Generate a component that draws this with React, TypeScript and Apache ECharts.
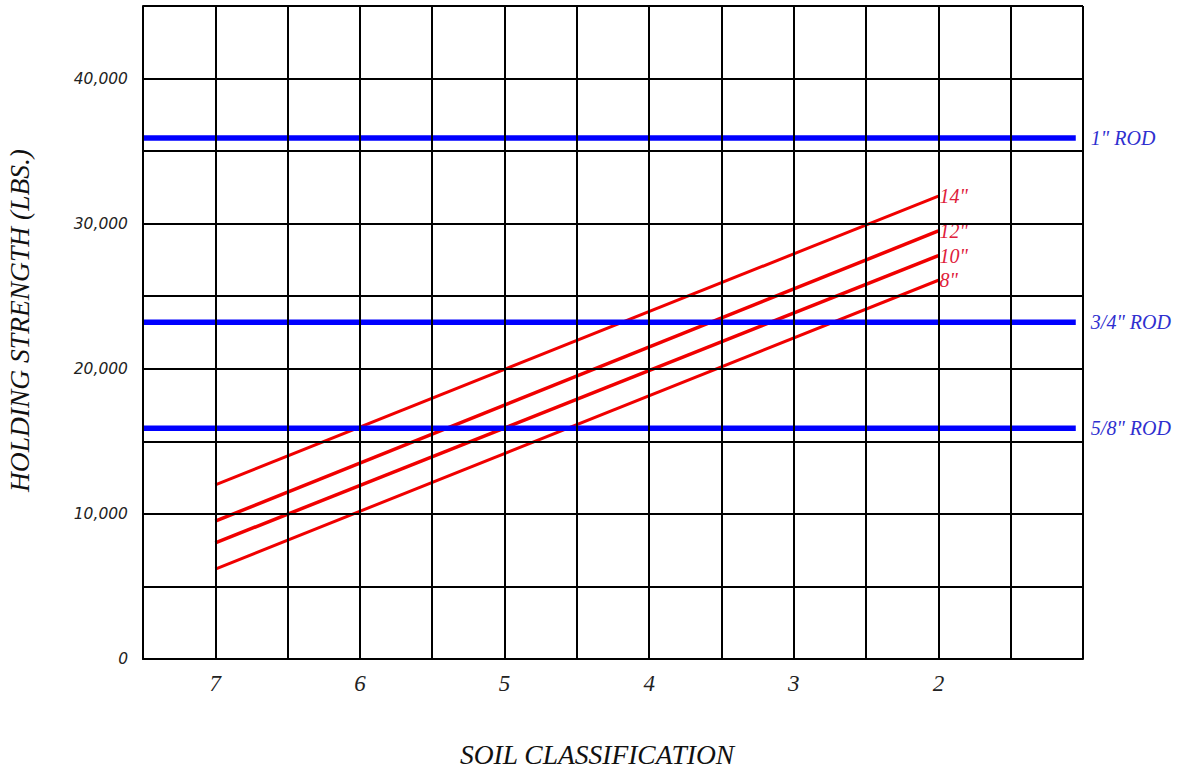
import React, { useEffect, useRef } from "react";
import * as echarts from "echarts";

// Soil classification (x) endpoints of the anchor lines
const soilStart = 7;
const soilEnd = 2;

// Helix anchor sizes and holding strengths (lbs) at soil class 7 and 2
const anchorNames = ['14"', '12"', '10"', '8"'];
const strengthAtStart = [12000, 9500, 8000, 6200];
const strengthAtEnd = [31900, 29500, 27800, 26100];
const anchorWidths = [3, 3.5, 3.5, 3];

// Rod ratings (lbs)
const rodNames = ['1" ROD', '3/4" ROD', '5/8" ROD'];
const rodStrengths = [35900, 23200, 15900];
const rodFrom = 7.5;
const rodTo = 1.05;

const yTickLabels = [0, 10000, 20000, 30000, 40000];
const xTickLabels = [7, 6, 5, 4, 3, 2];

export default function App() {
  const ref = useRef<HTMLDivElement>(null);

  useEffect(() => {
    if (!ref.current) return;
    const chart = echarts.init(ref.current, null, { renderer: "svg" });

    const endPointLabel = (text: string, color: string, distance: number) => ({
      show: true,
      position: "right",
      distance,
      formatter: text,
      color,
      fontFamily: "Liberation Serif",
      fontStyle: "italic",
      fontSize: 20,
    });

    const rodSeries = rodNames.map((name, i) => ({
      type: "line",
      name,
      z: 2,
      symbol: "circle",
      symbolSize: 0.1,
      showSymbol: true,
      itemStyle: { color: "#0000ff" },
      lineStyle: { color: "#0000ff", width: 5.5 },
      data: [
        [rodFrom, rodStrengths[i]],
        {
          value: [rodTo, rodStrengths[i]],
          label: endPointLabel(name, "#2f2fcf", 15),
        },
      ],
    }));

    const anchorSeries = anchorNames.map((name, i) => ({
      type: "line",
      name,
      z: 1,
      symbol: "circle",
      symbolSize: 0.1,
      showSymbol: true,
      itemStyle: { color: "#f00000" },
      lineStyle: { color: "#f00000", width: anchorWidths[i] },
      data: [
        [soilStart, strengthAtStart[i]],
        {
          value: [soilEnd, strengthAtEnd[i]],
          label: endPointLabel(name, "#e0203a", 1),
        },
      ],
    }));

    chart.setOption({
      animation: false,
      backgroundColor: "#ffffff",
      grid: {
        left: 143,
        right: 99,
        top: 6,
        bottom: 112,
        containLabel: false,
        outerBoundsMode: "none",
      },
      xAxis: {
        type: "value",
        inverse: true,
        min: 1,
        max: 7.5,
        interval: 0.5,
        z: 5,
        name: "SOIL CLASSIFICATION",
        nameLocation: "middle",
        nameGap: 82,
        nameTextStyle: {
          fontFamily: "Liberation Serif",
          fontStyle: "italic",
          fontSize: 27.5,
          color: "#111",
          padding: [0, 32, 0, 0],
        },
        axisLine: { show: true, lineStyle: { color: "#000", width: 2 } },
        axisTick: { show: false },
        splitLine: { show: true, lineStyle: { color: "#000", width: 2 } },
        axisLabel: {
          margin: 13,
          fontFamily: "Liberation Serif",
          fontStyle: "italic",
          fontSize: 23,
          color: "#222",
          formatter: (v: number) => (xTickLabels.includes(v) ? String(v) : ""),
        },
      },
      yAxis: {
        type: "value",
        min: 0,
        max: 45000,
        interval: 5000,
        z: 5,
        name: "HOLDING STRENGTH (LBS.)",
        nameLocation: "middle",
        nameGap: 110,
        nameRotate: 90,
        nameTextStyle: {
          fontFamily: "Liberation Serif",
          fontStyle: "italic",
          fontSize: 27.5,
          color: "#111",
          padding: [0, 0, 0, 24],
        },
        axisLine: { show: true, lineStyle: { color: "#000", width: 2 } },
        axisTick: { show: false },
        splitLine: { show: true, lineStyle: { color: "#000", width: 2 } },
        axisLabel: {
          margin: 15,
          fontFamily: "DejaVu Sans",
          fontStyle: "italic",
          fontSize: 15.5,
          color: "#222",
          formatter: (v: number) =>
            yTickLabels.includes(v) ? v.toLocaleString("en-US") : "",
        },
      },
      series: [...anchorSeries, ...rodSeries],
    });

    return () => chart.dispose();
  }, []);

  return <div ref={ref} style={{ width: 1182, height: 771, position: "absolute", left: 0, top: 0 }} />;
}
